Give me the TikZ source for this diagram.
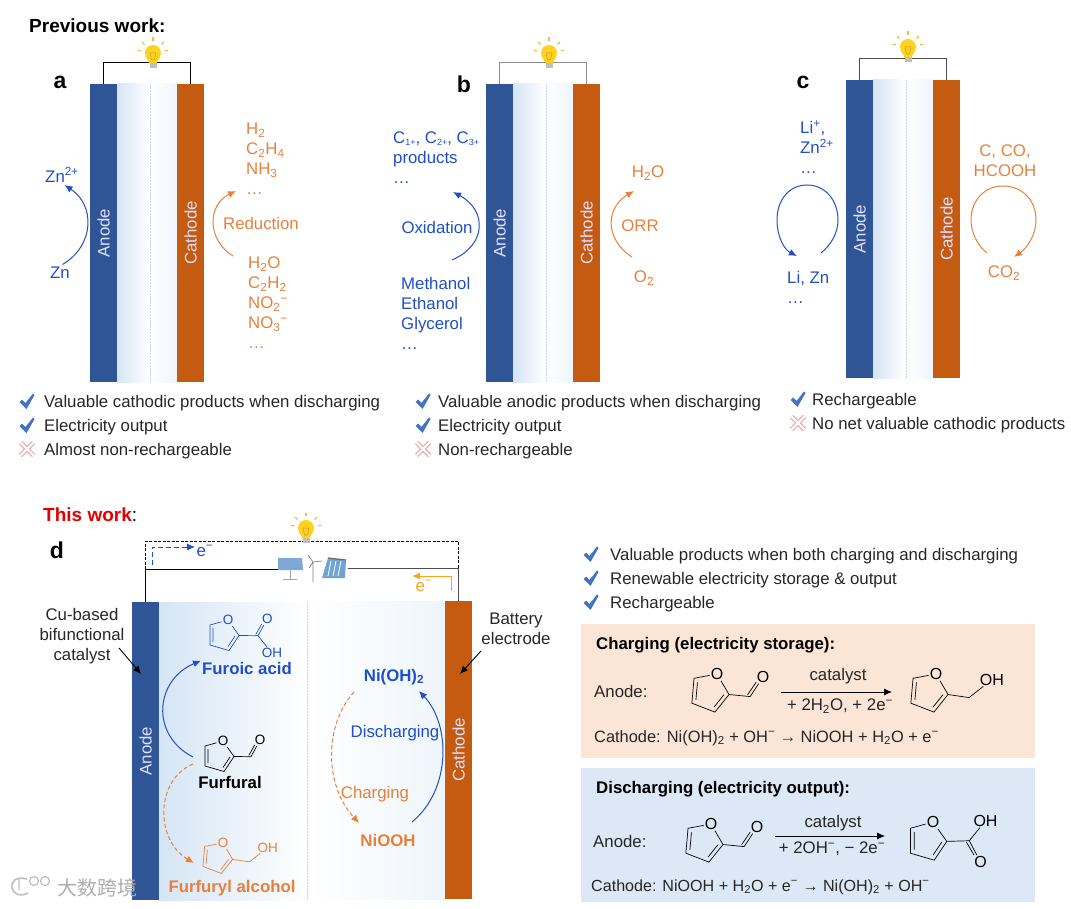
\documentclass[tikz,border=0pt]{standalone}
\usepackage{fontspec}
\setmainfont{Liberation Sans}
\newfontfamily\cjkfont{Noto Sans CJK SC}
\usepackage{xcolor}
\usepackage{tikz}
\usetikzlibrary{calc, positioning, arrows.meta}

\definecolor{anodeblue}{HTML}{2F5597}
\definecolor{cathodeorange}{HTML}{C55A11}
\definecolor{gradblue}{HTML}{D5E5F5}
\definecolor{gradpale}{HTML}{EEF5FB}
\definecolor{reactblue}{HTML}{1F4FC8}
\definecolor{reactorange}{HTML}{E8803C}
\definecolor{textdark}{HTML}{262626}
\definecolor{boxorange}{HTML}{FBE5D6}
\definecolor{boxblue}{HTML}{DCE8F5}
\definecolor{tickblue}{HTML}{4472C4}
\definecolor{crosspink}{HTML}{EDA0A0}
\definecolor{bulbyellow}{HTML}{FFD21E}
\definecolor{rayyellow}{HTML}{F2BC45}
\definecolor{eorange}{HTML}{F5A623}
\definecolor{solarblue}{HTML}{7FA8D8}
\definecolor{damblue}{HTML}{6FA3D0}

\newcommand{\fmain}{\fontsize{16.8}{20}\selectfont}
\newcommand{\fhead}{\fontsize{19}{22}\bfseries\selectfont}
\newcommand{\fpanel}{\fontsize{23}{26}\bfseries\selectfont}
\newcommand{\fatom}{\fontsize{13.5}{15}\selectfont}
\newcommand{\fatombig}{\fontsize{16}{18}\selectfont}
\newcommand{\fline}{\fontsize{16.4}{20}\selectfont}
\newcommand{\csub}[1]{\raisebox{-2pt}{\fontsize{9}{10}\selectfont #1}}
% furan ring, with O at the origin
\newcommand{\furanring}{
    \node[atom] (oring) at (0,0) {O};
    \coordinate (cfive) at (-18,5);
    \coordinate (cfour) at (-18,25);
    \coordinate (cthree) at (1,30.5);
    \coordinate (ctwo) at (11,15.5);
    \draw[bond] (oring) -- (cfive) -- (cfour) -- (cthree) -- (ctwo) -- (oring);
    \draw[bond] (-15,8) -- (-15,22) (0,26.5) -- (7,16);
}

\tikzset{
    txt/.style={inner sep=1pt, text=textdark},
    ltxt/.style={txt, anchor=west, text height=15pt, text depth=3pt},
    bluetxt/.style={inner sep=1pt, text=reactblue, align=left},
    orangetxt/.style={inner sep=1pt, text=reactorange, align=left},
    panel/.style={inner sep=0pt, font=\fpanel},
    electrode/.style={minimum width=27pt, minimum height=298pt, inner sep=0pt, text=white!88!blue},
    wire/.style={line width=0.9pt},
    sepline/.style={densely dotted, line width=0.5pt, color=black!18},
    bluearc/.style={->, line width=1pt, color=reactblue},
    orangearc/.style={->, line width=1pt, color=reactorange},
    atom/.style={inner sep=1pt},
    bond/.style={line width=0.7pt},
    cell/.pic={
        \shade[left color=gradblue, right color=white] (27,0) rectangle (60,298);
        \shade[left color=white, right color=gradpale] (60,0) rectangle (87,298);
        \draw[sepline] (60,0) -- (60,298);
        \node[electrode, fill=anodeblue] (anode) at (13.5,149) {\rotatebox{90}{Anode}};
        \node[electrode, fill=cathodeorange] (cathode) at (100.5,149) {\rotatebox{90}{Cathode}};
    },
    bulb/.pic={
        \foreach \a in {-10,-45,-90,-135,-170}
            \draw[rayyellow, line width=1.2pt] (\a:12) -- (\a:15.5);
        \fill[black!25] (-3.5,9) rectangle (3.5,15);
        \fill[bulbyellow] (-7,4) -- (-3.5,10) -- (3.5,10) -- (7,4) -- cycle;
        \fill[bulbyellow] (0,0) circle (8);
        \draw[rayyellow!80!black, line width=0.5pt] (-3,0) -- (3,0) -- (1.5,7) -- (-1.5,7) -- cycle;
    },
    tick/.pic={
        \fill[tickblue] (-7.5,1) -- (-5,-1.5) -- (-1.5,2) -- (6,-7.5) -- (7.5,-6) -- (-0.5,8) -- cycle;
    },
    cross/.pic={
        \draw[crosspink, line width=4.5pt] (-6.5,-6.5) -- (6.5,6.5) (-6.5,6.5) -- (6.5,-6.5);
        \draw[white, line width=2.2pt] (-6.5,-6.5) -- (6.5,6.5) (-6.5,6.5) -- (6.5,-6.5);
    },
    furfural/.pic={
        \furanring
        \node[atom] (oald) at (37,-1) {O};
        \draw[bond] (ctwo) -- (28,15.7) -- (oald) (25.8,14.4) -- (31.8,3.8);
    },
    alcohol/.pic={
        \furanring
        \node[atom] (ohyd) at (45,0.5) {OH};
        \draw[bond] (ctwo) -- (28,16.5) -- (ohyd);
    },
    furoicup/.pic={
        \furanring
        \node[atom] (oket) at (39.3,-1) {O};
        \node[atom] (ohyd) at (44,33) {OH};
        \draw[bond] (ctwo) -- (30,15.7) -- (oket) (27.8,14.4) -- (33.8,4);
        \draw[bond] (30,15.7) -- (ohyd);
    },
    furoicdown/.pic={
        \furanring
        \node[atom] (ohyd) at (42,-1) {OH};
        \node[atom] (oket) at (38,32) {O};
        \draw[bond] (ctwo) -- (29,15) -- (ohyd);
        \draw[bond] (29,15) -- (oket) (26.8,16.2) -- (32.8,26.5);
    },
}

\begin{document}
\begin{tikzpicture}[>={Latex[length=8pt,width=7pt]}, x=1pt, y=-1pt, font=\fmain]
    \useasboundingbox (0,0) rectangle (1071,909);

    % 1. Tiêu đề
    \node[txt, anchor=west, font=\fhead, text=black] (prev) at (28,26) {Previous work:};
    \node[txt, anchor=west, font=\fhead, text=black] (thiswork) at (42,515) {\textcolor{red!90!black}{This work}\mdseries :};
    \node[panel] (la) at (60,82) {a};
    \node[panel] (lb) at (464,84) {b};
    \node[panel] (lc) at (803,82) {c};
    \node[panel] (ld) at (57,550) {d};

    % 2. Pin a, b, c
    \pic (pa) at (90,84) {cell};
    \pic (pb) at (486,84) {cell};
    \pic (pc) at (846,80) {cell};
    \draw[wire, black] (paanode.north) -- ++(0,-21) -| (pacathode.north);
    \draw[wire, black!45] (pbanode.north) -- ++(0,-21) -| (pbcathode.north);
    \draw[wire, black!70] (pcanode.north) -- ++(0,-21) -| (pccathode.north);
    \pic at (153,53) {bulb};
    \pic at (549,53) {bulb};
    \pic at (908,47) {bulb};

    % 3. Phản ứng ở pin a
    \node[bluetxt] (znion) at (62,175) {Zn\textsuperscript{2+}};
    \node[bluetxt] (zn) at (60,273) {Zn};
    \draw[bluearc, shorten <=3pt, shorten >=3pt] (zn.north) .. controls (95,245) and (95,205) .. (znion.south);
    \node[orangetxt, anchor=west] (aprod) at (245,159) {H\textsubscript{2}\\C\textsubscript{2}H\textsubscript{4}\\NH\textsubscript{3}\\…};
    \node[orangetxt, anchor=west] (areact) at (247,303) {H\textsubscript{2}O\\C\textsubscript{2}H\textsubscript{2}\\NO\textsubscript{2}\textsuperscript{−}\\NO\textsubscript{3}\textsuperscript{−}\\…};
    \node[orangetxt] (reduction) at (261,223) {Reduction};
    \coordinate (astart) at (233,256);
    \coordinate (aend) at (236,191);
    \draw[orangearc] (astart) .. controls (207,240) and (207,205) .. (aend);

    % 4. Phản ứng ở pin b
    \node[bluetxt, anchor=west] (bprod) at (392,158) {C\csub{1+}, C\csub{2+}, C\csub{3+}\\products\\…};
    \node[bluetxt, anchor=west] (breact) at (400,313) {Methanol\\Ethanol\\Glycerol\\…};
    \node[bluetxt] (oxidation) at (437,227) {Oxidation};
    \coordinate (bstart) at (452,260);
    \coordinate (bend) at (453,192);
    \draw[bluearc] (bstart) .. controls (487,245) and (487,210) .. (bend);
    \node[orangetxt] (bwater) at (648,173) {H\textsubscript{2}O};
    \node[orangetxt] (orr) at (640,226) {ORR};
    \node[orangetxt] (boxygen) at (644,278) {O\textsubscript{2}};
    \coordinate (cstartb) at (632,257);
    \coordinate (cendb) at (634,191);
    \draw[orangearc] (cstartb) .. controls (605,240) and (605,208) .. (cendb);

    % 5. Phản ứng ở pin c
    \node[bluetxt, anchor=west] (cion) at (799,147) {Li\textsuperscript{+},\\Zn\textsuperscript{2+}\\…};
    \node[bluetxt, anchor=west] (cmetal) at (786,287) {Li, Zn\\…};
    \coordinate (cloopa) at (821,253);
    \coordinate (cloopb) at (797,256);
    \draw[bluearc] (cloopa) .. controls (832,244) and (838,232) .. (838,220)
        .. controls (838,200) and (825,185) .. (807,185)
        .. controls (789,185) and (777,200) .. (777,220)
        .. controls (777,238) and (785,250) .. (cloopb);
    \node[orangetxt, align=center] (cprod) at (1005,161) {C, CO,\\HCOOH};
    \node[orangetxt] (ccarbon) at (1004,273) {CO\textsubscript{2}};
    \coordinate (cloopc) at (987,253);
    \coordinate (cloopd) at (1014,257);
    \draw[orangearc] (cloopc) .. controls (977,245) and (971,232) .. (971,220)
        .. controls (971,200) and (985,186) .. (1003,186)
        .. controls (1022,186) and (1036,200) .. (1036,220)
        .. controls (1036,235) and (1027,248) .. (cloopd);

    % 6. Các ý của a, b, c
    \foreach \n/\y/\t in {1/401/Valuable cathodic products when discharging, 2/425/Electricity output} {
        \pic at (27,\y) {tick};
        \node[ltxt] (atext\n) at (43,\y) {\t};
    }
    \pic at (27,449) {cross};
    \node[ltxt] (atext3) at (43,449) {Almost non-rechargeable};
    \foreach \n/\y/\t in {1/401/Valuable anodic products when discharging, 2/425/Electricity output} {
        \pic at (423,\y) {tick};
        \node[ltxt] (btext\n) at (437,\y) {\t};
    }
    \pic at (423,449) {cross};
    \node[ltxt] (btext3) at (437,449) {Non-rechargeable};
    \pic at (798,399) {tick};
    \node[ltxt] (ctext1) at (811,399) {Rechargeable};
    \pic at (798,423) {cross};
    \node[ltxt] (ctext2) at (811,423) {No net valuable cathodic products};

    % 7. Pin d
    \shade[left color=gradblue, right color=white] (159,602) rectangle (307,900);
    \shade[left color=white, right color=gradpale] (307,601) rectangle (445,899);
    \draw[sepline] (307,601) -- (307,899);
    \node[electrode, fill=anodeblue] (danode) at (145.5,751) {\rotatebox{90}{Anode}};
    \node[electrode, fill=cathodeorange] (dcathode) at (458.5,750) {\rotatebox{90}{Cathode}};
    \coordinate (genl) at (278,569);
    \coordinate (genr) at (348,568);
    \draw[wire, black] (danode.north) |- (genl);
    \draw[wire, black!70] (dcathode.north) |- (genr);
    \draw[wire, black, dash pattern=on 3pt off 1.5pt] (danode.north |- genl) -- ++(0,-28) -| (dcathode.north |- genr);
    \pic at (306,528) {bulb};

    % 8. Nguồn điện tái tạo
    \fill[solarblue] (278,558) -- (302,558) -- (303,570) -- (278,570) -- cycle;
    \draw[black!35, line width=0.6pt] (290,570) -- (290,579) (283,579) -- (297,579);
    \draw[black!50, line width=0.7pt] (313,562) -- (313,582) (313,562) -- (308,555) (313,562) -- (322,561) (313,562) -- (309,568);
    \fill[damblue] (328,558) -- (346,560) -- (345,578) -- (322,578) -- cycle;
    \draw[black!60, line width=1.2pt] (328,558) -- (346,560);
    \foreach \x in {331,336,341}
        \draw[white, line width=0.8pt] (\x,561) -- (\x-3,576);

    % 9. Dòng electron
    \coordinate (ebstart) at (152,565);
    \coordinate (ebend) at (195,547);
    \draw[->, reactblue, dash pattern=on 5pt off 3pt, line width=0.9pt] (ebstart) |- (ebend);
    \node[bluetxt] (eblue) at (205,551) {e\textsuperscript{−}};
    \coordinate (eostart) at (451,591);
    \coordinate (eoend) at (412,576);
    \draw[->, eorange, line width=0.9pt] (eostart) |- (eoend);
    \node[inner sep=1pt, text=eorange] (eorg) at (424,586) {e\textsuperscript{−}};

    % 10. Chú thích điện cực
    \node[txt, align=center] (cu) at (82,636) {Cu-based\\bifunctional\\catalyst};
    \node[txt, align=center] (batt) at (516,629) {Battery\\electrode};
    \coordinate (cufrom) at (119,648);
    \coordinate (cutip) at (141,674);
    \coordinate (battfrom) at (481,651);
    \coordinate (batttip) at (460,674);
    \draw[->, black, line width=0.9pt] (cufrom) -- (cutip);
    \draw[->, black, line width=0.9pt] (battfrom) -- (batttip);

    % 11. Chất phản ứng ở anode d
    \pic[reactblue, font=\fatom] at (228,620) {furoicup};
    \node[bluetxt, font=\fmain\bfseries] (furoic) at (247,668) {Furoic acid};
    \pic[black, font=\fatom] at (223,741) {furfural};
    \node[txt, font=\fmain\bfseries, text=black] (furfural) at (230,782) {Furfural};
    \pic[reactorange, rotate=-5, font=\fatom] at (223,843) {alcohol};
    \node[orangetxt, font=\fmain\bfseries] (ffalcohol) at (232,888) {Furfuryl alcohol};
    \coordinate (ffa) at (193,757);
    \coordinate (ffb) at (193,764);
    \coordinate (ffc) at (194,863);
    \draw[bluearc] (ffa) .. controls (150,735) and (155,680) .. (furoic.north west);
    \draw[orangearc, dash pattern=on 4pt off 2.5pt] (ffb) .. controls (155,780) and (155,840) .. (ffc);

    % 12. Chất phản ứng ở cathode d
    \node[bluetxt, font=\fmain\bfseries] (nioh) at (394,677) {Ni(OH)\textsubscript{2}};
    \node[orangetxt, font=\fmain\bfseries] (niooh) at (388,840) {NiOOH};
    \node[bluetxt] (discharging) at (395,733) {Discharging};
    \node[orangetxt] (charging) at (375,794) {Charging};
    \coordinate (nia) at (354,692);
    \coordinate (nib) at (359,823);
    \coordinate (nic) at (412,822);
    \coordinate (nid) at (419,691);
    \draw[orangearc, dash pattern=on 4pt off 2.5pt] (nia) .. controls (324,725) and (324,785) .. (nib);
    \draw[bluearc] (nic) .. controls (451,790) and (451,725) .. (nid);

    % 13. Các ý của d
    \foreach \n/\y/\t in {1/554/Valuable products when both charging and discharging, 2/578/Renewable electricity storage \& output, 3/602/Rechargeable} {
        \pic at (591,\y) {tick};
        \node[ltxt] (dtext\n) at (609,\y) {\t};
    }

    % 14. Khung sạc
    \fill[boxorange] (581,624) rectangle (1035,758);
    \node[txt, anchor=west, font=\fmain\bfseries, text=black] (charge) at (595,645) {Charging (electricity storage):};
    \node[ltxt] (canode) at (593,691) {Anode:};
    \pic[black, scale=1.25, rotate=-5, font=\fatombig] at (717,674) {furfural};
    \coordinate (carrowa) at (781,692);
    \coordinate (carrowb) at (892,692);
    \draw[->, black, line width=0.9pt] (carrowa) -- (carrowb);
    \node[txt] (ccat) at (838,676) {catalyst};
    \node[txt] (cbelow) at (840,706) {+ 2H\textsubscript{2}O, + 2e\textsuperscript{−}};
    \pic[black, scale=1.25, rotate=-5, font=\fatombig] at (936,674) {alcohol};
    \node[ltxt, font=\fline] (ccathode) at (593,736) {Cathode: Ni(OH)\textsubscript{2} + OH\textsuperscript{−} → NiOOH + H\textsubscript{2}O + e\textsuperscript{−}};

    % 15. Khung xả
    \fill[boxblue] (581,768) rectangle (1035,902);
    \node[txt, anchor=west, font=\fmain\bfseries, text=black] (discharge) at (595,789) {Discharging (electricity output):};
    \node[ltxt] (danodetxt) at (592,841) {Anode:};
    \pic[black, scale=1.25, rotate=-5, font=\fatombig] at (711,824) {furfural};
    \coordinate (darrowa) at (775,836);
    \coordinate (darrowb) at (885,836);
    \draw[->, black, line width=0.9pt] (darrowa) -- (darrowb);
    \node[txt] (dcat) at (833,823) {catalyst};
    \node[txt] (dbelow) at (832,849) {+ 2OH\textsuperscript{−}, − 2e\textsuperscript{−}};
    \pic[black, scale=1.25, font=\fatombig] at (933,822) {furoicdown};
    \node[ltxt, font=\fontsize{16.1}{20}\selectfont] (dcathodetxt) at (590,885) {Cathode: NiOOH + H\textsubscript{2}O + e\textsuperscript{−} → Ni(OH)\textsubscript{2} + OH\textsuperscript{−}};

    % 16. Dòng chữ mờ
    \draw[black!25, line width=1.6pt] (27,879) .. controls (15,876) and (11,882) .. (12,888) .. controls (13,894) and (20,897) .. (28,893);
    \draw[black!25, line width=1.2pt] (19,879) -- (19,890) (34,881) circle (4.5) (45,881) circle (4.5);
    \node[inner sep=0pt, text=black!32, font={\cjkfont\fontsize{20}{22}\selectfont}] (mark) at (97,888) {大数跨境};
\end{tikzpicture}
\end{document}
